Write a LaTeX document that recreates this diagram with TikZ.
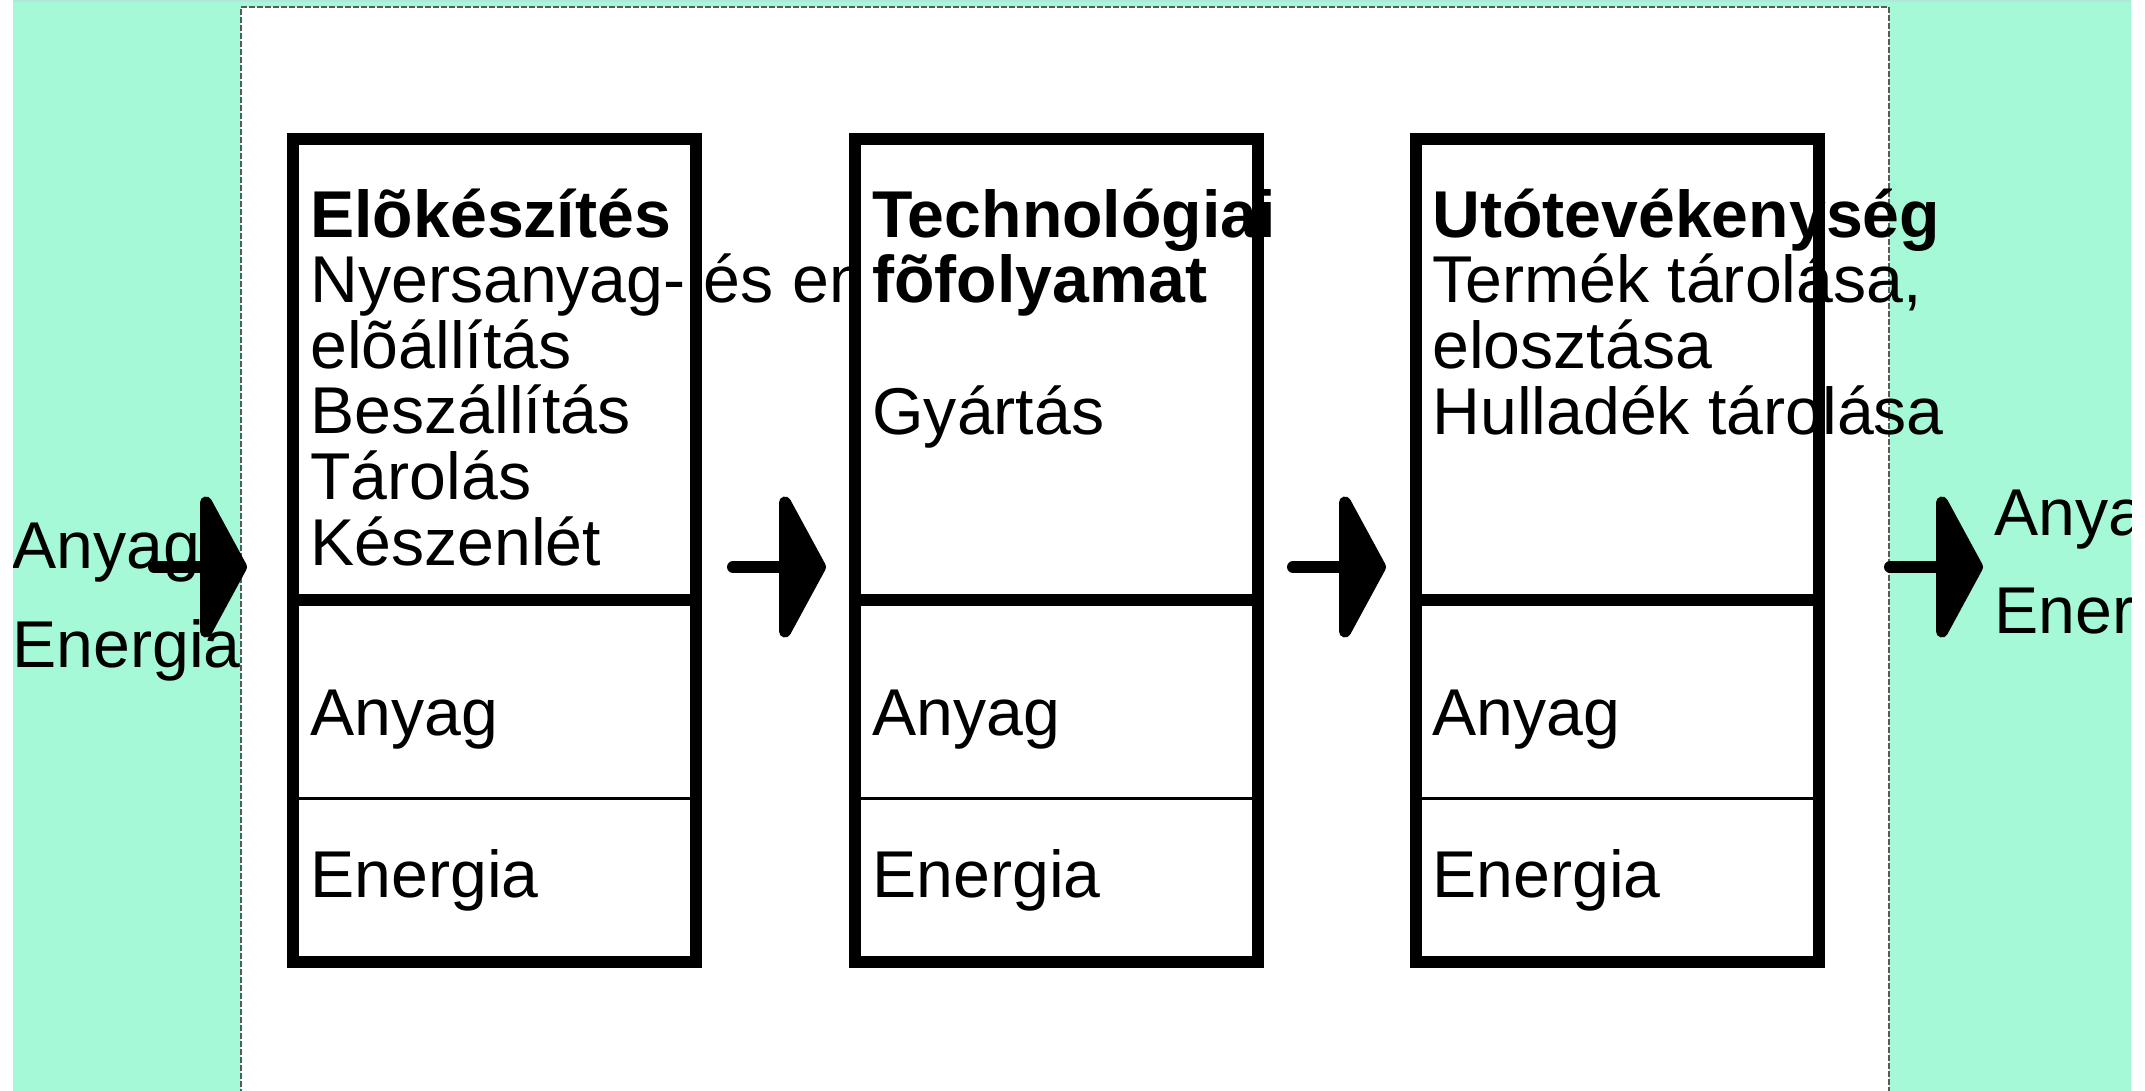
\documentclass[tikz,border=0pt]{standalone}
\usepackage{fontspec}
\setmainfont{Liberation Sans}
\lineskiplimit=-100pt
\definecolor{mint}{RGB}{166,249,214}
\definecolor{mintrim}{RGB}{180,228,222}
\tikzset{
  stagefill/.style={rectangle,fill=white,inner sep=0pt,outer sep=0pt,minimum width=207.5pt,minimum height=417.5pt},
  stageframe/.style={rectangle,draw,line width=6pt,inner sep=0pt,minimum width=201.5pt,minimum height=411.5pt},
  lbl/.style={anchor=base west,inner sep=0pt,align=left},
  heavyrule/.style={line width=6pt},
  lightrule/.style={line width=1.5pt},
  flow/.pic={
    \draw[line width=6pt,line cap=round] (0,0) -- (52,0);
    \filldraw[line width=6pt,line join=round] (52,-64.5) -- (87,0) -- (52,64.5) -- cycle;
  }
}
\begin{document}
\begin{tikzpicture}[x=0.5pt,y=-0.5pt,font=\fontsize{33.1}{32.8}\selectfont]
\useasboundingbox (0,0) rectangle (2145,1091);
\clip (13,0) rectangle (2131,1091);
\fill[mint] (13,0) rectangle (2131,1091);
\fill[mintrim] (13,0) rectangle (2131,2);
\fill[white] (241,7) rectangle (1889,1095);
\draw[black!65,line width=0.75pt,dash pattern=on 3pt off 1pt] (241,1095) -- (241,7) -- (1889,7) -- (1889,1095);

% inputs and outputs
\node[lbl] (inmat)  at (12,568)   {Anyag};
\node[lbl] (inen)   at (12,667)   {Energia};
\node[lbl] (outmat) at (1994,535) {Anyag};
\node[lbl] (outen)  at (1994,633) {Energia};

% stage 1 (multi-line text sits on its last baseline)
\node[stagefill] (s1) at (494.5,550.5) {};
\node[lbl] (s1txt) at (310,565) {\textbf{Elõkészítés}\\Nyersanyag- és energia\\elõállítás\\Beszállítás\\Tárolás\\Készenlét};
\node[lbl] (s1mat) at (310,735) {Anyag};
\node[lbl] (s1en)  at (310,897) {Energia};
\draw[heavyrule] ([yshift=-24.75pt]s1.west) -- ([yshift=-24.75pt]s1.east);
\draw[lightrule] ([yshift=-123.75pt]s1.west) -- ([yshift=-123.75pt]s1.east);
\node[stageframe] (s1f) at (s1) {};

% stage 2
\node[stagefill] (s2) at (1056,550.5) {};
\node[lbl] (s2txt) at (872,434) {\textbf{Technológiai}\\\textbf{fõfolyamat}\\ \\Gyártás};
\node[lbl] (s2mat) at (872,735) {Anyag};
\node[lbl] (s2en)  at (872,897) {Energia};
\draw[heavyrule] ([yshift=-24.75pt]s2.west) -- ([yshift=-24.75pt]s2.east);
\draw[lightrule] ([yshift=-123.75pt]s2.west) -- ([yshift=-123.75pt]s2.east);
\node[stageframe] (s2f) at (s2) {};

% stage 3
\node[stagefill] (s3) at (1617,550.5) {};
\node[lbl] (s3txt) at (1432,434) {\textbf{Utótevékenység}\\Termék tárolása,\\elosztása\\Hulladék tárolása};
\node[lbl] (s3mat) at (1432,735) {Anyag};
\node[lbl] (s3en)  at (1432,897) {Energia};
\draw[heavyrule] ([yshift=-24.75pt]s3.west) -- ([yshift=-24.75pt]s3.east);
\draw[lightrule] ([yshift=-123.75pt]s3.west) -- ([yshift=-123.75pt]s3.east);
\node[stageframe] (s3f) at (s3) {};

% arrows
\pic (feed) at (154,567)  {flow};
\pic (a12)  at (733,567)  {flow};
\pic (a23)  at (1293,567) {flow};
\pic (out)  at (1890,567) {flow};
\end{tikzpicture}
\end{document}
